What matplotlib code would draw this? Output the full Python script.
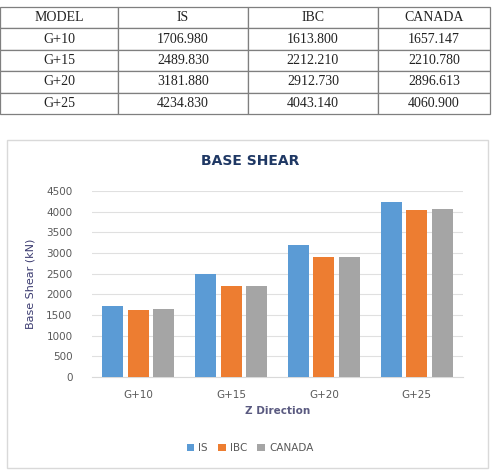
import matplotlib.pyplot as plt
import numpy as np
from matplotlib.patches import Rectangle

models = ['G+10', 'G+15', 'G+20', 'G+25']
codes = ['IS', 'IBC', 'CANADA']
is_shear = [1706.980, 2489.830, 3181.880, 4234.830]
ibc_shear = [1613.800, 2212.210, 2912.730, 4043.140]
canada_shear = [1657.147, 2210.780, 2896.613, 4060.900]
yticks = [0, 500, 1000, 1500, 2000, 2500, 3000, 3500, 4000, 4500]

colors = ['#5B9BD5', '#ED7D31', '#A5A5A5']

W, H = 493, 470
fig = plt.figure(figsize=(W / 100, H / 100), dpi=100)

# ---- table on top
tax = fig.add_axes([0 / W, 1 - 114 / H, 490 / W, 107 / H])
tax.axis('off')
rows = [[m, f'{a:.3f}', f'{b:.3f}', f'{c:.3f}']
        for m, a, b, c in zip(models, is_shear, ibc_shear, canada_shear)]
tbl = tax.table(cellText=rows, colLabels=['MODEL'] + codes,
                cellLoc='center', bbox=[0, 0, 1, 1],
                colWidths=[118, 130, 130, 112])
tbl.auto_set_font_size(False)
for (r, c), cell in tbl.get_celld().items():
    cell.set_edgecolor('#7f7f7f')
    cell.set_linewidth(0.9)
    cell.get_text().set_fontsize(10)
    cell.get_text().set_fontfamily('Liberation Serif')
    cell.get_text().set_color('#222222')

# ---- chart frame
fig.patches.append(Rectangle((7 / W, 1 - 468 / H), 481 / W, 328 / H,
                             transform=fig.transFigure, fill=False,
                             edgecolor='#d9d9d9', linewidth=1.0))

ax = fig.add_axes([92 / W, 1 - 377 / H, 371 / W, 186 / H])
x = np.arange(len(models))
bw = 0.225
gap = 0.05
for i, (vals, col) in enumerate(zip([is_shear, ibc_shear, canada_shear], colors)):
    offs = (i - 1) * (bw + gap)
    ax.bar(x + offs, vals, width=bw, color=col, label=codes[i], zorder=3)

ax.set_xlim(-0.5, len(models) - 0.5)
ax.set_ylim(0, 4500)
ax.set_yticks(yticks)
ax.set_xticks(x)
ax.set_xticklabels(models)
ax.grid(axis='y', color='#e0e0e0', linewidth=0.8, zorder=0)
for s in ['top', 'right', 'left']:
    ax.spines[s].set_visible(False)
ax.spines['bottom'].set_color('#d9d9d9')
ax.tick_params(axis='both', length=0, labelsize=7.5, colors='#595959')
ax.tick_params(axis='y', pad=14)
ax.tick_params(axis='x', pad=9)

ax.set_xlabel('Z Direction', fontsize=7.5, fontweight='bold', color='#5a5a80', labelpad=5)
ax.set_ylabel('Base Shear (kN)', fontsize=8, color='#3b3b70', labelpad=8)

fig.text(250 / W, 1 - 161 / H, 'BASE SHEAR', ha='center', va='center',
         fontsize=10, fontweight='bold', color='#1F3864')

fig.legend(loc='center', bbox_to_anchor=(250 / W, 1 - 448 / H), ncol=3,
           frameon=False, fontsize=7.5, handlelength=0.7, handleheight=0.7,
           handletextpad=0.4, columnspacing=1.0, labelcolor='#595959')

fig.savefig('out.png', dpi=100)
